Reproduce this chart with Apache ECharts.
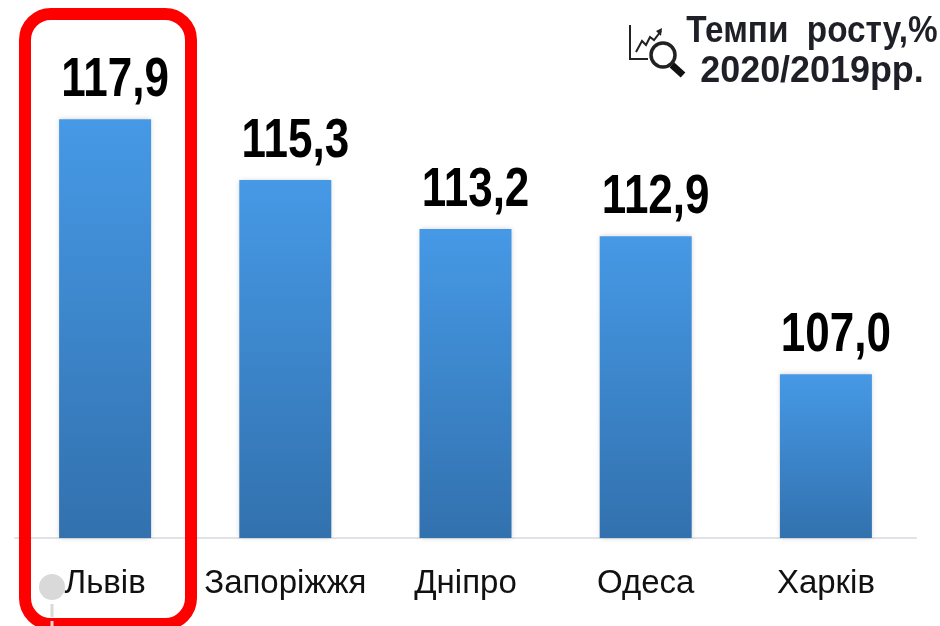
<!DOCTYPE html>
<html>
<head>
<meta charset="utf-8">
<title>Темпи росту</title>
<style>
  html, body { margin: 0; padding: 0; background: #fff; }
  #chart { width: 940px; height: 626px; }
</style>
<script src="https://cdn.jsdelivr.net/npm/echarts@6/dist/echarts.min.js"></script>
</head>
<body>
<div id="chart"></div>
<script>
const cities = ['Львів', 'Запоріжжя', 'Дніпро', 'Одеса', 'Харків'];
const growth = [117.9, 115.3, 113.2, 112.9, 107.0];
const titleLines = ['Темпи  росту,%', '2020/2019рр.'];

const baseFont = '"Liberation Sans", sans-serif';
const barGradient = new echarts.graphic.LinearGradient(0, 0, 0, 1, [
  { offset: 0, color: '#4699e6' },
  { offset: 1, color: '#3271ae' }
]);

// no condensed face is installed, so the big numbers are squeezed horizontally
const renderValueLabel = (params, api) => {
  const point = api.coord([api.value(0), api.value(1)]);
  return {
    type: 'text',
    x: point[0] + 10,
    y: point[1] - 66,
    scaleX: 0.8,
    style: {
      text: api.value(1).toFixed(1).replace('.', ','),
      fill: '#000',
      font: 'bold 55px ' + baseFont,
      align: 'center',
      verticalAlign: 'top'
    }
  };
};

const chart = echarts.init(document.getElementById('chart'), null, { renderer: 'canvas' });
chart.setOption({
  animation: false,
  backgroundColor: '#fff',
  grid: { left: 15, top: 70, width: 901, height: 468 },
  xAxis: {
    type: 'category',
    data: cities,
    axisTick: { show: false },
    axisLine: { lineStyle: { color: '#dfe3e8', width: 2 } },
    axisLabel: {
      color: '#111',
      fontFamily: baseFont,
      fontSize: 33,
      margin: 29,
      interval: 0
    }
  },
  yAxis: { type: 'value', min: 100, max: 120, show: false },
  series: [
    {
      type: 'bar',
      data: growth,
      barWidth: 92,
      itemStyle: {
        color: barGradient,
        shadowColor: 'rgba(0, 0, 0, 0.18)',
        shadowBlur: 5
      }
    },
    {
      type: 'custom',
      data: growth.map((v, i) => [i, v]),
      renderItem: renderValueLabel,
      clip: false,
      z: 5
    }
  ],
  graphic: [
    // red frame around the first city
    {
      type: 'rect',
      shape: { x: 25, y: 14, width: 166, height: 610, r: 26 },
      style: { fill: 'none', stroke: '#ff0000', lineWidth: 12 },
      z: 10
    },
    // grey marker under the frame
    { type: 'circle', shape: { cx: 52, cy: 587, r: 13 }, style: { fill: '#d9d9d9' }, z: 11 },
    {
      type: 'line',
      shape: { x1: 52, y1: 604, x2: 52, y2: 626 },
      style: { stroke: '#d9d9d9', lineWidth: 3, lineDash: [13, 4] },
      z: 11
    },
    // chart + magnifier icon
    {
      type: 'polyline',
      shape: { points: [[630, 25], [630, 59], [648, 59]] },
      style: { fill: 'none', stroke: '#222', lineWidth: 2 },
      z: 10
    },
    {
      type: 'polyline',
      shape: { points: [[636, 52], [642, 41], [646, 45], [650, 37], [654, 40], [661, 31]] },
      style: { fill: 'none', stroke: '#222', lineWidth: 2 },
      z: 10
    },
    {
      type: 'polygon',
      shape: { points: [[656, 31], [662, 28], [661, 36]] },
      style: { fill: '#222' },
      z: 10
    },
    {
      type: 'circle',
      shape: { cx: 663, cy: 55, r: 12 },
      style: { fill: '#fff', stroke: '#222', lineWidth: 3.5 },
      z: 10
    },
    {
      type: 'line',
      shape: { x1: 672, y1: 65, x2: 683, y2: 75 },
      style: { stroke: '#111', lineWidth: 7 },
      z: 10
    },
    // title
    {
      type: 'text',
      x: 812,
      y: 13,
      scaleX: 0.9,
      style: {
        text: titleLines[0],
        fill: '#1f1f28',
        font: 'bold 37px ' + baseFont,
        align: 'center',
        verticalAlign: 'top'
      },
      z: 10
    },
    {
      type: 'text',
      x: 812,
      y: 53,
      scaleX: 0.97,
      style: {
        text: titleLines[1],
        fill: '#1f1f28',
        font: 'bold 37px ' + baseFont,
        align: 'center',
        verticalAlign: 'top'
      },
      z: 10
    }
  ]
});
</script>
</body>
</html>
